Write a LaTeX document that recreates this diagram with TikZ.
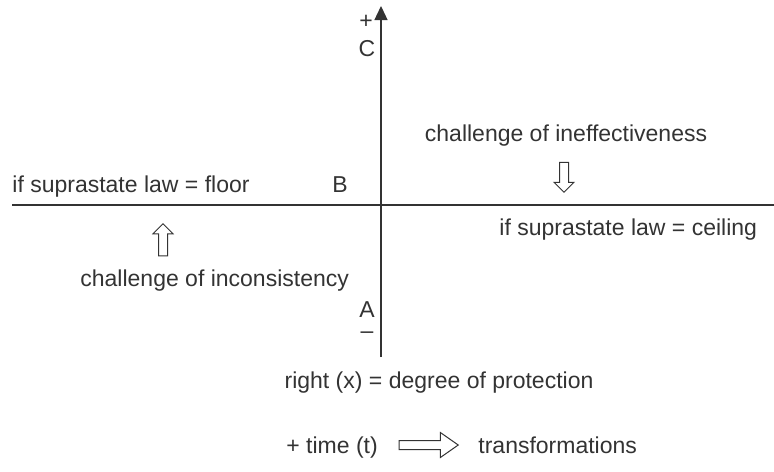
\documentclass[tikz,border=0pt]{standalone}
\usepackage{fontspec}
\setmainfont{Liberation Sans}
\usetikzlibrary{arrows.meta, positioning, shapes.arrows}

\definecolor{ink}{HTML}{333333}

\begin{document}
\begin{tikzpicture}[
  x=0.5pt, y=-0.5pt,
  lbl/.style={inner sep=0pt, text=ink, font=\fontsize{11.5}{13.8}\selectfont},
  axis/.style={draw=ink, line width=0.65pt},
  hollow/.style={single arrow, draw=ink, fill=white, line width=0.5pt, inner sep=2pt, minimum width=9.5pt, single arrow head extend=2.75pt, single arrow head indent=0pt},
  timearrow/.style={hollow, minimum width=12pt, single arrow head extend=4pt, single arrow tip angle=70}
]
\useasboundingbox (0,0) rectangle (774,471);

% axes
\coordinate (ytop) at (381,6);
\coordinate (ybot) at (381,357);
\coordinate (xleft) at (12,205);
\coordinate (xright) at (774,205);
\draw[axis, -{Triangle[length=7pt, width=6.5pt]}] (ybot) -- (ytop);
\draw[axis] (xleft) -- (xright);

% axis marks
\node[lbl] (plus) at (366,22) {+};
\node[lbl, anchor=base] (c) at (367,56) {C};
\node[lbl, anchor=base] (b) at (340,192) {B};
\node[lbl, anchor=base] (a) at (367,317) {A};
\node[lbl] (minus) at (367,335) {--};

% quadrant texts
\node[lbl, anchor=base west] (floor) at (12,192) {if suprastate law = floor};
\node[lbl, anchor=base west] (ceiling) at (499,235) {if suprastate law = ceiling};
\node[lbl, anchor=base] (ineff) at (566,141) {challenge of ineffectiveness};
\node[lbl, anchor=base west] (incons) at (80,286) {challenge of inconsistency};
\node[lbl, anchor=base] (right) at (439,388) {right (x) = degree of protection};

% hollow arrows
\node[hollow, rotate=-90, minimum height=15pt] (down) at (564,175) {};
\node[hollow, rotate=90, minimum height=16pt] (up) at (163,242) {};

% time line
\node[lbl, anchor=base west] (time) at (286,453) {+ time (t)};
\node[timearrow, minimum height=29.5pt] (tarrow) at (425.5,445) {};
\node[lbl, anchor=base west] (trans) at (478,453) {transformations};
\end{tikzpicture}
\end{document}
